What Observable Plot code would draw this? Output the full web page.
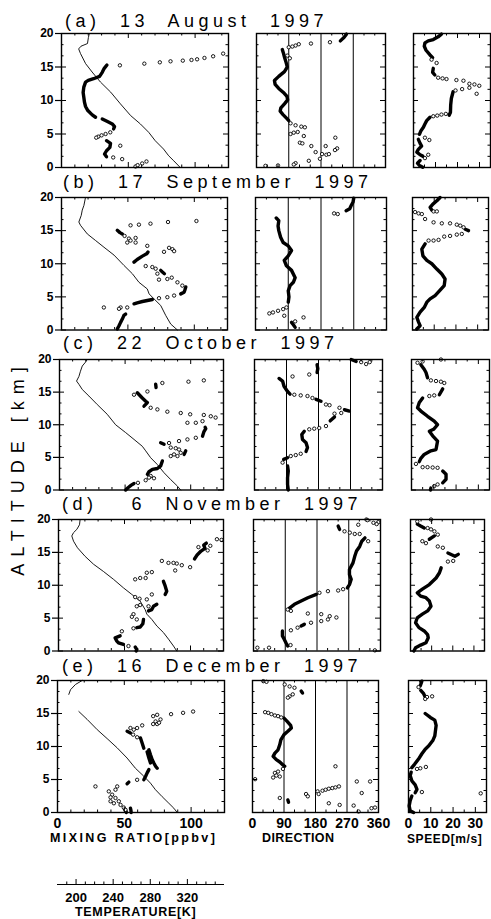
<!DOCTYPE html>
<html><head><meta charset="utf-8">
<script src="https://cdn.jsdelivr.net/npm/d3@7"></script>
<script src="https://cdn.jsdelivr.net/npm/@observablehq/plot@0.6"></script>
<style>
body{margin:0;background:#fff;}
#c{position:relative;width:491px;height:919px;overflow:hidden;font-family:"Liberation Sans",Arial,sans-serif;color:#000;}
.t{position:absolute;white-space:pre;line-height:1;}
</style></head><body><div id="c"></div>
<script>
// ---------------- DATA ----------------
const titles = ["(a) 13 August 1997", "(b) 17 September 1997", "(c) 22 October 1997", "(d) \u20076 November 1997", "(e) 16 December 1997"];
const altMajor = [0, 5, 10, 15, 20];
const altMinor = [5/3, 10/3, 20/3, 25/3, 35/3, 40/3, 50/3, 55/3];
const mrTicks = [0, 50, 100], mrMinor = [10,20,30,40,60,70,80,90,110,120], mrMajor = [50,100];
const dirTicks = [0, 90, 180, 270, 360], dirMinor = [30,60,120,150,210,240,300,330], dirLines = [90,180,270];
const spdTicks = [0, 10, 20, 30], spdMinor = [5,15,25], spdMajor = [10,20,30];
const tempTicks = [200, 240, 280, 320];
const tempMinor = [190,210,220,230,250,260,270,290,300,310,330,340,350];

// row (a) 13 August 1997  — [altitude km, value]
const tempA = [[20,210],[19.4,209],[18.5,208],[18.1,201],[17.7,198.5],[17,200.5],[15.5,206],[14.25,213],[12.75,222],[11.25,233],[9.5,243.5],[7.75,254.5],[6.5,265],[5.25,274],[4,281],[2.75,290],[1.75,295.5],[1,301],[0,308]];
const o3DenseA = [[[15.3,34],[14.8,32],[14.2,30.5],[13.6,28.5],[13.25,24],[13,20],[12.75,18],[12,16.7],[11.2,16.2],[10.5,16.7],[9.75,17.2],[9.1,18],[8.5,19.7],[7.85,23],[7.5,25.5]],
 [[7.25,30.5],[6.9,34],[6.5,38],[6.1,39.7],[5.75,39]],
 [[4.0,33.7],[3.6,36.7],[3.0,36.2],[2.5,33.7],[2.0,32.2],[1.6,33.7]]];
const o3A = [[5.25,36.5],[5.0,33],[4.8,30],[4.6,27.5],[4.45,26],[3.25,44],[1.5,38.7],[1.25,45.4],[0.15,55.4],[0.35,57],[0.6,60.4],[0.9,63.6],[15.25,43.7],[15.5,62],[15.7,73.6],[15.85,81.6],[15.95,90.8],[16.05,97.3],[16.15,101.5],[16.35,107],[16.6,113.5],[17,121]];
const dirDenseA = [[[18.9,234],[19.4,244],[19.9,251]],
 [[17.6,72],[17.1,75],[16.5,78],[15.8,82],[15.0,86],[14.3,78],[13.6,62],[13.0,50],[12.4,52],[11.8,62],[11.2,75],[10.6,85],[10.1,87],[9.5,78],[8.9,68],[8.4,66],[7.9,74],[7.3,85],[7.0,90]]];
const dirA = [[18.5,152],[18.7,205],[18.4,118],[18.2,109],[18.05,100],[17.95,90],[16.7,86],[16.3,93],[6.6,95],[6.3,109],[6.1,125],[6.0,135],[5.0,95],[5.2,104],[5.3,115],[4.7,132],[3.7,121],[3.6,128],[3.2,153],[3.2,193],[4.45,220],[2.85,225],[2.6,219],[2.3,165],[2.0,183],[1.9,195],[2.0,202],[1.3,177],[1.0,146],[0.65,109],[0.45,104],[0.25,25],[0.3,60]];
const spdDenseA = [[[19.9,12.7],[19.5,11.2],[19.1,9],[18.9,6.7],[18.6,5.2],[18.1,4.9],[17.5,5.7],[16.8,7.5],[16.4,8.7]],
 [[14.8,9],[14.2,8.7],[13.8,9.7]],
 [[11.3,18],[10.3,17.2],[9.3,16.9],[8.25,16.8],[7.8,16.2]],
 [[7.5,7.5],[7.0,6],[6.5,5.2],[6.0,4.5],[5.5,3.4],[4.95,2.7]],
 [[4.2,2.2],[3.6,3],[3.2,3.7],[2.7,2.2],[2.3,1.5],[1.9,3],[1.7,4.2]],
 [[1.05,3],[0.65,1.8],[0.3,2.7],[0.05,4.2]]];
const spdA = [[16.1,8.2],[15.6,10.5],[13.4,11.2],[13.3,13.2],[13.2,15],[13.05,19.5],[12.95,22.7],[12.5,25.4],[12.4,27.7],[12.2,29.9],[11.0,28.7],[11.9,25.4],[11.7,22.1],[11.5,19.1],[8.0,14.7],[7.9,12.7],[7.75,10.8],[7.65,9],[4.45,5.2],[4.1,7.2],[1.9,6.7],[1.4,5.2]];

// row (b) 17 September 1997
const tempB = [[20,206],[18.8,204.3],[18.1,202.5],[17.3,201.4],[16.3,198.8],[15.8,200.6],[14.5,208],[13.5,217],[12.5,226],[11.3,237],[9.75,247.7],[8.5,256.8],[7.2,264],[6.2,273],[5.45,275],[4.7,280.3],[3.7,287.6],[2.2,293],[0.9,298.4],[0,305.7]];
const o3DenseB = [[[15.05,42],[14.7,44],[14.5,45.8]],
 [[10.25,54.6],[10.65,57],[11.15,60.9],[11.5,64.1],[11.75,65.1]],
 [[9.0,74.7],[8.75,76],[8.5,77.5]],
 [[6.5,93.6],[6.1,93],[5.7,92.3],[5.45,89.8]],
 [[4.6,68.4],[4.3,60.9],[4.1,57],[3.95,54.6]],
 [[2.4,48.3],[2.2,47],[1.65,45.8],[1.15,44.5],[0.65,43.3],[0.15,42]]];
const o3B = [[15.8,52],[15.9,58.3],[16.05,67],[16.3,80.2],[16.45,101.6],[14.2,47.5],[13.8,50.8],[13.9,55.8],[13.2,55.8],[13.2,49.5],[13.5,52],[12.7,64.6],[11.8,77.2],[12.4,81],[12.2,83.5],[11.9,84.8],[9.65,63.4],[9.5,68.4],[9.25,70.9],[8.5,72.2],[7.7,79.7],[7.6,73.4],[7.9,83],[7.2,87.3],[6.7,91],[5.2,84.8],[4.95,79.7],[4.8,73.4],[3.4,49.5],[3.4,44.5],[3.2,43.3],[3.4,31.9]];
const dirDenseB = [[[16.9,57],[16.5,64],[15.7,62],[15.0,64],[14.0,69],[13.2,76],[12.7,90],[12.0,99],[11.2,90],[10.5,79],[9.7,85],[9.0,99],[7.9,109],[7.2,104],[6.7,95],[5.9,90],[5.0,92],[4.2,90]],
 [[1.15,99],[0.8,104],[0.4,109]],
 [[18,249],[18.3,259],[18.8,263],[19.3,268],[19.9,270]]];
const dirB = [[17.6,216],[17.5,226],[2.5,38],[2.65,48],[2.9,62],[3.15,76],[3.4,85],[2.15,79],[1.3,109],[1.9,132]];
const spdDenseB = [[[20,12.7],[19.5,11.2],[19,9.4],[18.5,8.1],[18.1,8.9]],
 [[15.2,24.3],[15,25.8]],
 [[13,5.8],[12.2,4.3],[11.2,4.8],[10.5,6.6],[10,8.9],[9.2,11.2],[8.45,13.5],[7.7,15],[6.7,14.6],[5.9,12.4],[5.2,10.4],[4.7,8.1],[4.2,6.6],[3.4,5.4],[2.7,3.5],[1.9,2],[1.2,2.8],[0.65,3.5],[0.15,2]]];
const spdB = [[17.9,9.7],[17.9,11.2],[17.8,1.2],[17.6,2.8],[17.5,4.3],[16.75,5.8],[16.25,9.7],[16.1,13.5],[16.1,17.3],[15.9,20.4],[15.75,22],[15.5,23.5],[14.5,22.7],[14.4,20.4],[14.2,17.3],[14.1,14.6],[13.6,12],[13.5,9.7],[13.5,7.4]];

// row (c) 22 October 1997
const tempC = [[20,210.4],[19.6,208.6],[19,205],[18.2,203],[17.4,201.3],[16.7,198.7],[16.2,201.3],[15.4,205],[14.4,212.3],[13.1,221.4],[11.6,232.4],[10,241.6],[8.8,252.6],[7.75,261.8],[6.7,270.9],[6,274.6],[4.95,280],[3.9,287.4],[2.65,294.7],[1.6,302],[0.6,309.4],[0,313]];
const o3DenseC = [[[16.2,73.3],[15.7,73.6]],
 [[14.9,59.3],[14.1,63.1],[13.6,65.7],[13.4,67],[12.85,64.4]],
 [[9.6,111],[9.4,111.5],[8.9,110],[8.25,109]],
 [[7.25,77.1],[7.0,79.7]],
 [[6.0,96.2],[5.45,95]],
 [[4.45,78.4],[3.7,77.1],[3.3,74.6],[3.15,70.8],[2.8,68.2],[2.4,67]],
 [[0,50.4],[0.35,52.2],[0.75,54.7],[1.0,56.8]]];
const o3C = [[16.4,78.4],[16.6,98.3],[16.8,110],[15.1,67],[14.6,56.8],[12.6,69.5],[12.35,74.6],[12,82.2],[11.8,92.4],[11.6,99.6],[11.5,110],[11.3,115.3],[11.1,119],[10.55,109],[10.3,103.9],[10.3,97.5],[8.0,103.9],[7.75,97.5],[7.5,91.1],[7.2,83.5],[6.5,84.8],[6.4,88.6],[6.2,91.1],[5.7,92.4],[5.45,87.3],[5.2,89.9],[5.2,84.8],[2.15,69.5],[1.1,59.8],[1.5,65.7],[1.9,68.2],[1.8,72]];
const dirDenseC = [[[20,272],[19.7,286]],
 [[19.2,176],[18.6,178],[18,176]],
 [[17.1,69],[16.7,79],[15.9,83],[15.1,93],[14.7,100]],
 [[13.9,173],[13.6,187]],
 [[12.3,253],[12.1,267]],
 [[11.2,225],[10.6,213]],
 [[9,140],[8.5,133],[7.75,135],[7.25,145],[6.5,149],[5.9,145]],
 [[4.95,93],[4.7,82]],
 [[3.7,93],[2.9,95],[1.9,93],[0.85,93],[0,95]]];
const dirC = [[19.6,300],[19.3,314],[19.6,324],[17.7,154],[17.4,107],[14.6,112],[14.5,130],[14.4,149],[14.1,163],[13.1,201],[13,211],[12.6,239],[11.8,244],[11.7,225],[9.8,201],[9.5,182],[9.4,168],[9.3,154],[5.55,130],[5.35,116],[5.2,102],[4.2,79]];
const spdDenseC = [[[19.2,4.2],[18.5,5.7],[18,6.5],[17.2,7.2]],
 [[15.5,14],[14.6,12.5]],
 [[14.1,5],[13.4,3.5],[12.6,2.7],[12.1,4.2],[11.3,7.2],[10.55,10.2],[10,11.7],[9.3,9.9],[9,8],[8.3,9.5],[7.5,11.7],[6.2,11],[6,8.7],[5.45,5.7],[4.85,4.2],[4.35,3.5]],
 [[2.9,14],[2.4,15.5],[1.65,15.5],[1.1,14]],
 [[0.3,8.7],[0,8.5]]];
const spdC = [[20,13.2],[19.7,5],[19.5,2.7],[16.8,8.7],[16.7,11],[16.6,13.2],[16.4,14.7],[14.5,10.2],[14.4,8],[4.0,2],[3.5,5],[3.5,7.2],[3.45,9.5],[3.4,11.7],[0.85,11.7],[0.6,10.2]];

// row (d) 6 November 1997
const tempD = [[20,203.6],[19.2,202.9],[18.5,200],[18,196.4],[17.5,194.5],[16.7,196.4],[15.7,200.7],[14.4,209],[13.2,218.2],[12.1,229],[10.9,240],[9.6,250.9],[8.6,260],[7.6,269],[6.3,274.5],[5.6,276.4],[4.8,281.8],[3.8,287.3],[2.8,294.5],[1.8,300],[0.75,305.5],[0,309]];
const o3DenseD = [[[16.4,112],[16.1,110],[15.6,111],[15.2,108],[14.6,105],[14.0,103]],
 [[10.6,79.5],[9.9,80.8],[9.1,82],[8.6,80.8]],
 [[7.1,74.5],[6.8,72],[6.3,70.7],[6.1,68.2]],
 [[4.8,64.4],[4.15,63.9],[3.65,61.9],[3.55,59.3]],
 [[2.3,46.7],[2,42.9],[1.5,44.2],[1.25,45.4],[1,49.2]],
 [[0.6,58.1],[0.25,59.3],[0,58.8]]];
const o3D = [[17,120],[16.9,123.5],[16,115],[15.3,113],[15.8,106],[12.75,99.7],[13.05,93.4],[13.3,89.6],[13.4,87.1],[13.4,83.3],[13.7,78.3],[12.25,88.4],[12,70.7],[11.9,66.9],[11.1,61.9],[10.9,58.1],[11.1,66],[8.6,70.7],[7.85,66.9],[7.95,61.4],[8.2,58.1],[6.8,59.3],[7,61.9],[6.8,68.2],[5.6,56.8],[5.2,55.6],[4.8,59.3],[3.45,56.8],[3,48],[0.75,53]];
const dirDenseD = [[[19,240],[18.5,244]],
 [[17.2,316],[16.7,307],[15.9,301],[15.2,292],[14.4,287],[13.4,282],[12.9,277],[12.4,272],[11.6,272],[10.9,277],[10.1,272],[9.6,266]],
 [[8.6,178],[8.1,154],[7.6,135],[7.1,116],[6.5,101]],
 [[4.05,144],[3.8,135]],
 [[3.05,82],[2.3,82],[1.8,87],[1.25,92],[0.75,97]]];
const dirD = [[20,320],[19.9,323],[19.5,340],[19.6,354],[19.3,349],[19.2,297],[18.2,258],[18,273],[17.8,287],[17.8,301],[16.7,325],[9.4,254],[9.2,240],[9.1,211],[8.85,187],[6.1,106],[6.3,97],[5.7,154],[5.6,192],[5.3,216],[5.1,235],[4.8,211],[4.55,192],[4.3,163],[3.55,125],[3.15,106],[0.9,105],[0.5,11],[0.5,44],[0.1,344]];
const spdDenseD = [[[19.3,3.2],[19,4.8],[18.7,6.5]],
 [[17.5,11.3],[17,8.9]],
 [[14.9,17.7],[14.4,21],[14.7,22.6]],
 [[12.65,14.5],[11.9,13.7],[11.1,12.1],[10.6,10.5],[10.1,8.9],[9.4,5.6],[8.85,3.2],[8.35,4.8],[8.1,7.3],[7.6,8.9],[6.8,9.7],[6.1,8.1],[5.6,5.6],[5.05,3.2],[4.3,2.4],[3.55,4],[3.05,6.5],[2.5,8.1],[2,8.4],[1.25,7.3],[0.9,4.8],[0.5,2.4],[0,1.6]]];
const spdD = [[20,9.7],[19.7,3.2],[18.7,8.1],[18.5,9.7],[18.2,11.3],[17.7,12.9],[16.7,5.6],[16.4,7.3],[15.9,12.9],[15.7,15.3],[13.7,20.2],[13.6,17.7]];

// row (e) 16 December 1997
const tempE = [[20,206.6],[19.4,199.4],[18.6,194],[17.9,192.2],[16.6,null],[15.3,203],[14.1,212],[12.55,222.8],[11.2,233.5],[9.8,244.3],[8.25,255],[6.7,264],[5.5,273],[4.45,280.2],[3.45,285.6],[2.4,292.8],[1.4,300],[0.65,305.4],[0,309]];
const o3DenseE = [[[12.3,52.1],[12.05,54.6]],
 [[11.3,62.1],[10.5,63.4],[9.75,64.6]],
 [[9.5,68.4],[8.75,69.6],[8,70.9],[7.5,72.1],[7,73.4],[6.7,74.6]],
 [[9.2,67.1],[8.25,68.4],[7.5,69.6]],
 [[6.5,68.4],[6,67.1],[5.45,65.9],[4.95,64.6]],
 [[4.6,53.4],[4.35,52.1]],
 [[0.65,54.6],[0.3,55],[0,55.1]],
 [[0.6,50],[0.3,51],[0,51.6]]];
const o3E = [[14.9,85],[15.1,94],[15.3,101.5],[14.6,71.6],[14.8,74.6],[13.8,73.4],[13.4,74.6],[14.1,77.1],[13.6,76],[13.4,71.6],[13.2,63.4],[12.8,59.6],[12.55,57.1],[12.8,54.6],[11.8,56.6],[11.4,59.6],[4.95,59.6],[3.95,28.4],[3.2,38.4],[3.45,43.4],[3.95,44.7],[2.7,40.9],[2.3,39.7],[2.2,43.4],[1.7,39.7],[1.4,42.2],[1.7,45.9],[1.15,47.2],[0.75,49.6],[0.4,50.9]];
const dirDenseE = [[[18.4,139],[18.1,143]],
 [[14.3,90],[13.8,99],[13.2,109],[12.8,111],[12.3,101],[11.8,90],[11,81],[10.3,78],[9.5,73],[9,64],[8.5,59],[8,68],[7.65,78],[7.2,87],[7,92]],
 [[1.9,101],[1.55,103]]];
const dirE = [[19.9,31],[19.8,40],[19.4,92],[19.1,106],[18.9,120],[17.9,115],[17.6,106],[17.4,101],[15.2,36],[15.1,45],[14.9,54],[14.7,64],[14.6,73],[14.4,82],[6.6,87],[6.2,73],[6,64],[5.6,68],[5.45,78],[5.3,59],[5.05,7.5],[2.2,78],[2.8,153],[2.45,158],[3.2,186],[2.8,189],[3.3,200],[3.45,209],[3.6,218],[3.7,228],[3.8,237],[3.95,247],[7,237],[1.4,218],[1.15,249],[1.05,289],[4.7,298],[2.95,312],[4.7,336],[0.15,303],[0.65,340],[0.75,350]];
const spdDenseE = [[[19.9,6],[19.2,5.3]],
 [[18.5,5.5],[18,6.8],[17.5,7.5]],
 [[15,7.5],[14.4,9.8],[14,11.8],[13.2,12.4],[12.4,12.1],[11.6,11.8],[10.9,10.9],[10.1,9.1],[9.6,7.5],[8.9,6],[8.1,4.5],[7.3,2.7],[6.8,1.5]],
 [[6.1,1.2],[5.6,0.75],[4.8,1.5],[4.2,3],[3.5,3.8],[3,3]],
 [[2.5,1.5],[1.8,0.75],[1,0.3],[0.25,0.75],[0,2.3]]];
const spdE = [[19,4.5],[17.5,8.3],[17.6,10.6],[17.2,7.5],[6.6,3.8],[6.7,5.3],[6.9,7.8],[3.1,6],[2.9,32.4]];

const temps = [tempA, tempB, tempC, tempD, tempE];
const o3Dense = [o3DenseA, o3DenseB, o3DenseC, o3DenseD, o3DenseE];
const o3Sparse = [o3A, o3B, o3C, o3D, o3E];
const dirDense = [dirDenseA, dirDenseB, dirDenseC, dirDenseD, dirDenseE];
const dirSparse = [dirA, dirB, dirC, dirD, dirE];
const spdDense = [spdDenseA, spdDenseB, spdDenseC, spdDenseD, spdDenseE];
const spdSparse = [spdA, spdB, spdC, spdD, spdE];

// ---------------- LAYOUT ----------------
const rowTop = [33, 196.5, 358.5, 518.5, 679.5];
const rowBot = [167, 329, 489, 650, 811.5];
const c1L = [61, 61, 59, 58, 57], c1R = [228, 227, 223, 223, 224];
const c2L = [256, 255, 254, 253, 252], c2R = [385, 386, 382, 380, 378];
const c3L = [413, 412, 411, 410, 408], c3R = [490, 488, 489, 484, 486];
const titleX = [65, 63, 63, 62, 62], titleBase = [27, 188, 349, 510, 672];
const FONT = "'Liberation Sans', Arial, Helvetica, sans-serif";

const C = document.getElementById("c");
function place(node, left, top) {
  node.style.position = "absolute"; node.style.left = left + "px"; node.style.top = top + "px";
  C.appendChild(node);
}
function text(str, x, base, fs, extra) {
  const d = document.createElement("div");
  d.className = "t"; d.textContent = str;
  d.style.fontSize = fs + "px";
  Object.assign(d.style, extra || {});
  place(d, x, base - 0.846 * fs);
  return d;
}
const flat = segs => segs.flatMap((s, i) => s.map(p => [p[0], p[1], i]));

function frameTicks(xd, W, H, xMinor, xMajor) {
  const yd = [0, 20];
  const kx = (xd[1] - xd[0]) / W, ky = (yd[1] - yd[0]) / H;
  const o = {strokeWidth: 1};
  return [
    Plot.ruleY(altMinor, {...o, y: d => d, x1: xd[0], x2: xd[0] + 2.5 * kx}),
    Plot.ruleY(altMajor, {...o, y: d => d, x1: xd[0], x2: xd[0] + 5 * kx}),
    Plot.ruleY(altMinor, {...o, y: d => d, x1: xd[1] - 2.5 * kx, x2: xd[1]}),
    Plot.ruleY(altMajor, {...o, y: d => d, x1: xd[1] - 5 * kx, x2: xd[1]}),
    Plot.ruleX(xMinor, {...o, x: d => d, y1: yd[0], y2: yd[0] + 2.5 * ky}),
    Plot.ruleX(xMajor, {...o, x: d => d, y1: yd[0], y2: yd[0] + 5 * ky}),
    Plot.ruleX(xMinor, {...o, x: d => d, y1: yd[1] - 2.5 * ky, y2: yd[1]}),
    Plot.ruleX(xMajor, {...o, x: d => d, y1: yd[1] - 5 * ky, y2: yd[1]})
  ];
}

function panel({L, R, T, B, xd, marks, yLabels, xLabels, ticks}) {
  const mL = yLabels ? 34 : 2, mR = 2, mT = 2, mB = xLabels ? 24 : 2;
  const W = R - L, H = B - T;
  const all = [...marks, ...frameTicks(xd, W, H, ...ticks)];
  if (yLabels) all.push(Plot.axisY({anchor: "left", ticks: altMajor, tickSize: 6, tickPadding: 2, fontSize: 12, fontWeight: "bold", strokeWidth: 1.2}));
  if (xLabels) all.push(Plot.axisX({anchor: "bottom", ticks: xLabels, tickSize: 0, tickPadding: 6, fontSize: 14, fontWeight: "bold", tickFormat: d => String(d)}));
  all.push(Plot.frame({stroke: "black", strokeWidth: 1.4}));
  const svg = Plot.plot({
    width: W + mL + mR, height: H + mT + mB,
    marginLeft: mL, marginRight: mR, marginTop: mT, marginBottom: mB,
    x: {domain: xd, ...(xLabels ? {} : {axis: null})},
    y: {domain: [0, 20], ...(yLabels ? {} : {axis: null})},
    style: {background: "transparent", overflow: "visible", fontFamily: FONT, color: "black"},
    marks: all
  });
  place(svg, L - mL, T - mT);
}

const dense = segs => Plot.line(flat(segs), {x: d => d[1], y: d => d[0], z: d => d[2], stroke: "black", strokeWidth: 3.4, strokeLinecap: "round", strokeLinejoin: "round"});
const sparse = pts => Plot.dot(pts, {x: d => d[1], y: d => d[0], r: 1.7, stroke: "black", strokeWidth: 0.9, fill: "white"});

const MR = [0, 125], DIR = [0, 360], SPD = [0, 35], TEMP = [180, 360];

for (let i = 0; i < 5; i++) {
  const last = i === 4;
  text(titles[i], titleX[i], titleBase[i], 18, {letterSpacing: "4.5px", wordSpacing: "10px"});
  {
    const L = c1L[i], R = c1R[i], T = rowTop[i], B = rowBot[i];
    const svg = Plot.plot({
      width: R - L + 4, height: B - T + 4, marginLeft: 2, marginRight: 2, marginTop: 2, marginBottom: 2,
      x: {domain: TEMP, axis: null}, y: {domain: [0, 20], axis: null},
      style: {background: "transparent", overflow: "visible"},
      marks: [Plot.line(temps[i], {x: d => d[1], y: d => d[0], stroke: "black", strokeWidth: 0.9})]
    });
    place(svg, L - 2, T - 2);
  }
  panel({L: c1L[i], R: c1R[i], T: rowTop[i], B: rowBot[i], xd: MR, yLabels: true, xLabels: last ? mrTicks : null,
    ticks: [mrMinor, mrMajor], marks: [dense(o3Dense[i]), sparse(o3Sparse[i])]});
  panel({L: c2L[i], R: c2R[i], T: rowTop[i], B: rowBot[i], xd: DIR, xLabels: last ? dirTicks : null,
    ticks: [dirMinor, []], marks: [Plot.ruleX(dirLines, {stroke: "black", strokeWidth: 1}), dense(dirDense[i]), sparse(dirSparse[i])]});
  panel({L: c3L[i], R: c3R[i], T: rowTop[i], B: rowBot[i], xd: SPD, xLabels: last ? spdTicks : null,
    ticks: [spdMinor, spdMajor], marks: [dense(spdDense[i]), sparse(spdSparse[i])]});
}

// axis titles
text("MIXING RATIO[ppbv]", 50, 843, 12.5, {fontWeight: "bold", letterSpacing: "2.4px"});
text("DIRECTION", 262, 843, 12.5, {fontWeight: "bold", letterSpacing: "0.4px"});
text("SPEED[m/s]", 407, 843, 12, {fontWeight: "bold", letterSpacing: "0.6px"});
text("TEMPERATURE[K]", 75, 917, 12.5, {fontWeight: "bold", letterSpacing: "0.7px"});
{
  const d = document.createElement("div");
  d.className = "t"; d.textContent = "ALTITUDE [km]";
  Object.assign(d.style, {fontSize: "18px", letterSpacing: "7px", transform: "translate(-50%,-50%) rotate(-90deg)"});
  place(d, 18, 468);
}

// temperature axis
{
  const L = 57, R = 224, axisY = 884, mT = 2, mB = 24, mL = 10, mR = 10;
  const svg = Plot.plot({
    width: R - L + mL + mR, height: 8 + mT + mB, marginLeft: mL, marginRight: mR, marginTop: mT, marginBottom: mB,
    x: {domain: TEMP}, y: {domain: [0, 8], axis: null},
    style: {background: "transparent", overflow: "visible", fontFamily: FONT, color: "black"},
    marks: [
      Plot.ruleY([0], {strokeWidth: 1.2}),
      Plot.ruleX(tempMinor, {x: d => d, y1: 0, y2: 2.5, strokeWidth: 1}),
      Plot.ruleX(tempTicks, {x: d => d, y1: 0, y2: 5, strokeWidth: 1}),
      Plot.axisX({anchor: "bottom", ticks: tempTicks, tickSize: 0, tickPadding: 8, fontSize: 13, fontWeight: "bold", tickFormat: d => String(d)})
    ]
  });
  place(svg, L - mL, axisY - 8 - mT);
}
</script></body></html>
